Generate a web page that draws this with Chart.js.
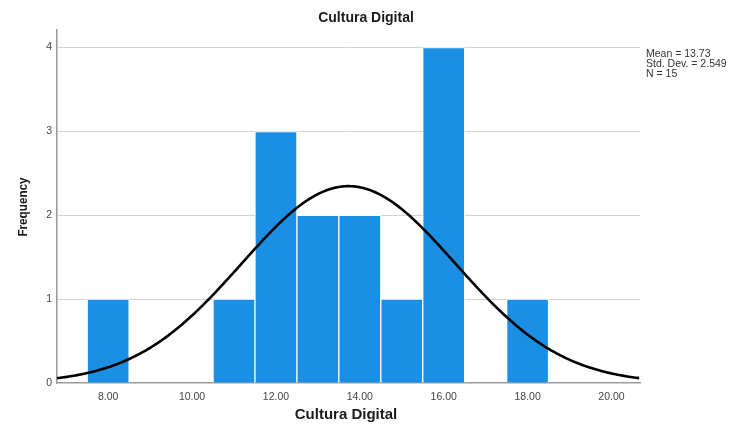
<!DOCTYPE html>
<html>
<head>
<meta charset="utf-8">
<script src="https://cdn.jsdelivr.net/npm/chart.js@4/dist/chart.umd.min.js"></script>
<style>
  html, body { margin: 0; padding: 0; background: #fff; }
  #wrap { width: 731px; height: 427px; position: relative; }
</style>
</head>
<body>
<div id="wrap"><canvas id="c" width="731" height="427"></canvas></div>
<script>
// Histogram bins (bin centres) and their frequencies
const binCentres = [8, 9, 10, 11, 12, 13, 14, 15, 16, 17, 18];
const frequencies = [1, 0, 0, 1, 3, 2, 2, 1, 4, 0, 1];

// Summary statistics shown beside the plot
const statMean = 13.73;
const statStdDev = 2.549;
const statN = 15;
const binWidth = 1;

// Axis tick labels
const xTickValues = [8, 10, 12, 14, 16, 18, 20];
const yTickValues = [0, 1, 2, 3, 4];

const xMin = 6.78, xMax = 20.68;
const yMin = 0, yMax = 4.21;

const barData = binCentres.map((b, i) => ({ x: b, y: frequencies[i] }));

// Fitted normal curve scaled to counts
const curveData = [];
for (let x = xMin; x <= xMax + 1e-9; x += 0.04) {
  const z = (x - statMean) / statStdDev;
  const y = statN * binWidth * Math.exp(-0.5 * z * z) / (statStdDev * Math.sqrt(2 * Math.PI));
  curveData.push({ x: x, y: y });
}

const FONT = "'Liberation Sans', Arial, Helvetica, sans-serif";
Chart.defaults.font.family = FONT;

const textPlugin = {
  id: 'chartText',
  afterDraw(chart) {
    const ctx = chart.ctx;
    ctx.save();
    ctx.fillStyle = '#1a1a1a';
    // main title
    ctx.font = "bold 14px " + FONT;
    ctx.textAlign = 'center';
    ctx.textBaseline = 'alphabetic';
    ctx.fillText('Cultura Digital', 366, 22);
    // x axis title
    ctx.font = "bold 15px " + FONT;
    ctx.fillText('Cultura Digital', 346, 419);
    // y axis title
    ctx.save();
    ctx.translate(27, 207);
    ctx.rotate(-Math.PI / 2);
    ctx.scale(0.9, 1);
    ctx.font = "bold 13px " + FONT;
    ctx.fillText('Frequency', 0, 0);
    ctx.restore();
    // statistics box
    ctx.font = "10.5px " + FONT;
    ctx.fillStyle = '#333';
    ctx.textAlign = 'left';
    ctx.fillText('Mean = ' + statMean.toFixed(2), 646, 56.5);
    ctx.fillText('Std. Dev. = ' + statStdDev.toFixed(3), 646, 66.5);
    ctx.fillText('N = ' + statN, 646, 76.5);
    ctx.restore();
  }
};

new Chart(document.getElementById('c'), {
  type: 'bar',
  data: {
    datasets: [
      {
        type: 'line',
        data: curveData,
        borderColor: '#000',
        borderWidth: 2.6,
        pointRadius: 0,
        fill: false,
        tension: 0,
        order: 0
      },
      {
        type: 'bar',
        data: barData,
        backgroundColor: '#1a8fe3',
        borderColor: '#ffffff',
        borderWidth: 1,
        borderSkipped: 'bottom',
        barPercentage: 1,
        categoryPercentage: 1,
        order: 1
      }
    ]
  },
  options: {
    responsive: false,
    animation: false,
    layout: { padding: { top: 30, right: 91, left: 0, bottom: 0 } },
    plugins: {
      legend: { display: false },
      tooltip: { enabled: false },
      title: { display: false }
    },
    scales: {
      x: {
        type: 'linear',
        offset: false,
        min: xMin,
        max: xMax,
        afterFit(scale) { scale.height = 44; },
        afterBuildTicks(scale) { scale.ticks = xTickValues.map(v => ({ value: v })); },
        grid: { display: false, drawTicks: false, offset: false },
        border: { color: '#9a9a9a', width: 1.5 },
        ticks: {
          padding: 8,
          color: '#444',
          font: { size: 10.5 },
          maxRotation: 0,
          callback: v => Number(v).toFixed(2)
        }
      },
      y: {
        min: yMin,
        max: yMax,
        afterFit(scale) { scale.width = 57; },
        afterBuildTicks(scale) { scale.ticks = yTickValues.map(v => ({ value: v })); },
        grid: {
          drawTicks: false,
          color: ctx => (ctx.tick && ctx.tick.value === 0) ? 'rgba(0,0,0,0)' : '#d4d4d4',
          lineWidth: 1
        },
        border: { color: '#9a9a9a', width: 1.5 },
        ticks: {
          padding: 5,
          color: '#444',
          font: { size: 10.5 },
          callback: v => String(v)
        }
      }
    }
  },
  plugins: [textPlugin]
});
</script>
</body>
</html>
